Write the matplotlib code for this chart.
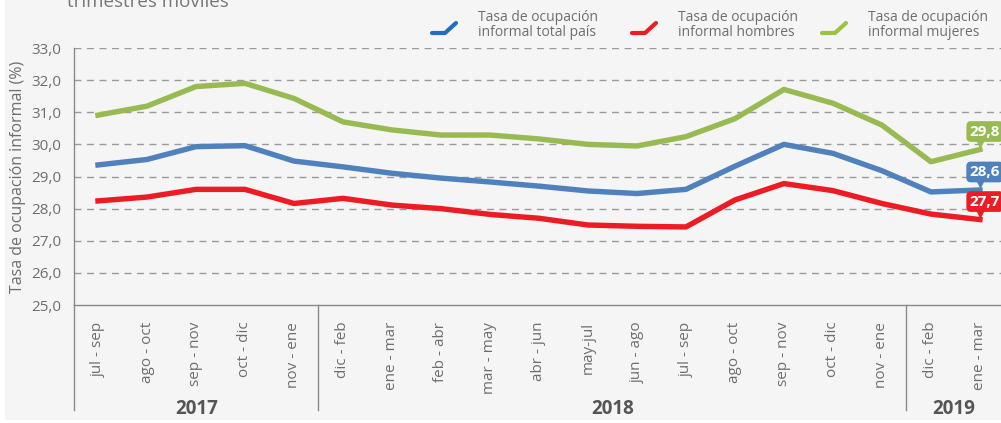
import numpy as np
import matplotlib
matplotlib.use("Agg")
import matplotlib.pyplot as plt
from matplotlib.transforms import blended_transform_factory, offset_copy

plt.rcParams['font.family'] = ['Open Sans', 'DejaVu Sans']

# trimestres moviles jul-sep 2017 .. ene-mar 2019
periodos = ['jul - sep', 'ago - oct', 'sep - nov', 'oct - dic', 'nov - ene',
            'dic - feb', 'ene - mar', 'feb - abr', 'mar - may', 'abr - jun',
            'may-jul', 'jun - ago', 'jul - sep', 'ago - oct', 'sep - nov',
            'oct - dic', 'nov - ene', 'dic - feb', 'ene - mar']
anios = ['2017', '2018', '2019']
cortes = [4.5, 16.5]   # separacion entre anios (entre indices)

total = [29.36, 29.53, 29.93, 29.96, 29.48, 29.30, 29.10, 28.95, 28.83, 28.70,
         28.55, 28.47, 28.60, 29.32, 30.00, 29.72, 29.18, 28.52, 28.58]
hombres = [28.24, 28.36, 28.60, 28.60, 28.16, 28.32, 28.11, 28.00, 27.82, 27.70,
           27.49, 27.45, 27.43, 28.27, 28.78, 28.56, 28.16, 27.83, 27.66]
mujeres = [30.91, 31.19, 31.80, 31.90, 31.43, 30.70, 30.45, 30.29, 30.29, 30.17,
           30.00, 29.95, 30.24, 30.80, 31.71, 31.28, 30.60, 29.46, 29.84]
etiquetas_fin = ['28,6', '27,7', '29,8']

nombres = ['Tasa de ocupación\ninformal total país',
           'Tasa de ocupación\ninformal hombres',
           'Tasa de ocupación\ninformal mujeres']
colores = ['#4f81bd', '#ed1c24', '#97bb52']
legend_colors = ['#1f6fc1', '#ed1c24', '#9ac43c']

gris = '#6e6e6e'
W, H = 1001, 423
fig = plt.figure(figsize=(W / 100, H / 100), dpi=100)
fig.patch.set_facecolor('white')

# fondo y leyenda en coordenadas de pixel
bg = fig.add_axes([0, 0, 1, 1], zorder=0)
bg.set_xlim(0, W)
bg.set_ylim(H, 0)
bg.axis('off')
bg.add_patch(plt.Rectangle((5, 0), W - 5, 420, color='#f5f5f5', lw=0))
# el titulo queda cortado arriba, como en el original
bg.text(67, 7, 'trimestres móviles', fontsize=13.5, color='#777777', va='baseline')

leg_x = [432, 632, 822]
for lx, c, n in zip(leg_x, legend_colors, nombres):
    bg.plot([lx, lx + 13, lx + 24], [33, 33, 23], color=c, lw=3, solid_capstyle='round',
            solid_joinstyle='round')
    bg.text(lx + 46, 25, n, fontsize=10, color=gris, va='center', linespacing=0.95)

# grafico principal
x0, y0 = 74, 305
ax = fig.add_axes([x0 / W, 1 - y0 / H, (W - x0) / W, (y0 - 48) / H], zorder=1)
ax.set_facecolor('none')
xs = np.arange(len(periodos))
ax.set_xlim(-0.49, 18.43)
ax.set_ylim(25, 33)
ax.set_yticks(np.arange(25, 34, 1))
ax.set_yticklabels([f'{v:.1f}'.replace('.', ',') for v in np.arange(25, 34, 1)])
ax.set_xticks(xs)
ax.set_xticklabels(periodos, rotation=90, va='top', ha='center')
ax.tick_params(axis='both', length=0, colors=gris)
ax.tick_params(axis='y', labelsize=11, pad=9)
ax.tick_params(axis='x', labelsize=11, pad=12)
for yv in range(26, 34):
    ax.axhline(yv, color='#9a9a9a', lw=1, ls=(0, (5, 4)), zorder=1)
for s in ['top', 'right']:
    ax.spines[s].set_visible(False)
for s in ['left', 'bottom']:
    ax.spines[s].set_color('#8a8a8a')
    ax.spines[s].set_linewidth(1)
ax.set_ylabel('Tasa de ocupación informal (%)', fontsize=11.5, color=gris)
ax.yaxis.set_label_coords(-0.052, 0.5)

series = [total, hombres, mujeres]
for ys, c in zip(series, colores):
    ax.plot(xs, ys, color=c, lw=3.9, solid_joinstyle='round', zorder=3)

# etiquetas del ultimo valor
for ys, c, lab in zip(series, colores, etiquetas_fin):
    tri = offset_copy(ax.transData, fig=fig, x=0, y=8, units='dots')
    ax.plot(xs[-1], ys[-1], marker='v', ms=7, color=c, transform=tri, zorder=4, clip_on=False)
    ax.annotate(lab, (xs[-1], ys[-1]), xytext=(5, 18), textcoords='offset pixels',
                ha='center', va='center', fontsize=11, fontweight='bold', color='white',
                bbox=dict(boxstyle='round,pad=0.22,rounding_size=0.3', fc=c, ec='none'),
                zorder=5, annotation_clip=False)

# separadores de anio y etiquetas
tr = blended_transform_factory(ax.transData, ax.transAxes)
ybot = -0.41
ax.plot([0, 0], [0, ybot], color='#8a8a8a', lw=1, transform=ax.transAxes, clip_on=False)
for c in cortes:
    ax.plot([c, c], [0, ybot], color='#8a8a8a', lw=1, transform=tr, clip_on=False)
lims = [-0.49] + cortes + [18.43]
for i, a in enumerate(anios):
    ax.text((lims[i] + lims[i + 1]) / 2, -0.405, a, transform=tr, ha='center', va='center',
            fontsize=13.5, fontweight='bold', color='#555555')

fig.savefig('out.png', dpi=100, facecolor=fig.get_facecolor())
